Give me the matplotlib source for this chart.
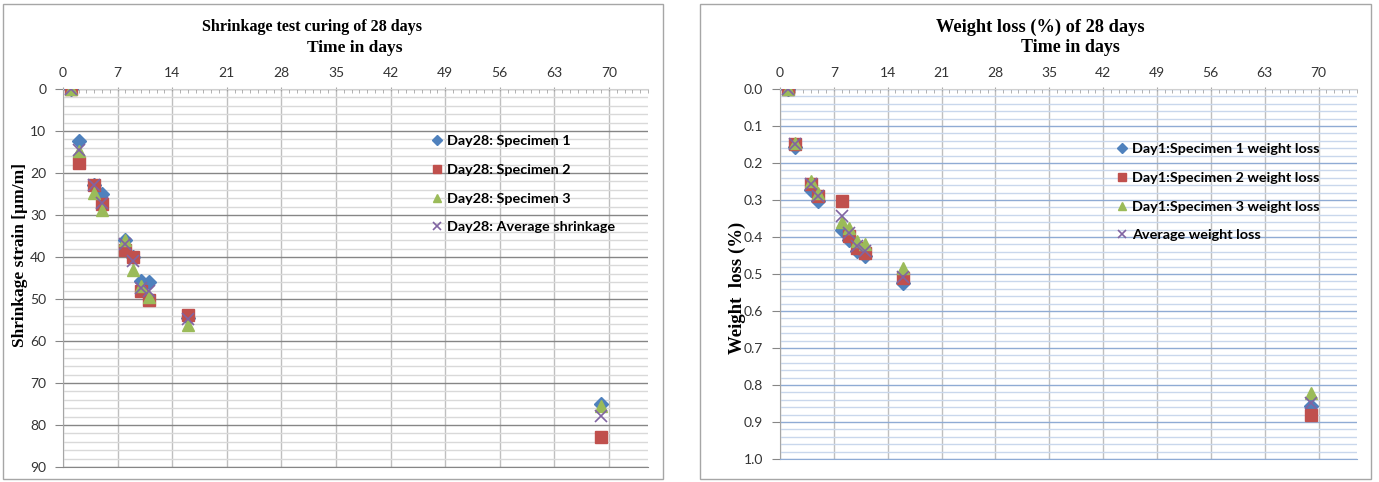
import matplotlib
matplotlib.use("Agg")
import matplotlib.pyplot as plt
from matplotlib.ticker import MultipleLocator, FormatStrFormatter
from matplotlib.patches import Rectangle

# ---------------- data ----------------
days = [1, 2, 4, 5, 8, 9, 10, 11, 16, 69]

shrink_s1 = [0, 12.3, 22.8, 24.9, 36.0, 40.0, 45.8, 46.0, 54.5, 75.0]
shrink_s2 = [0, 17.6, 22.8, 27.3, 38.3, 40.0, 48.2, 50.3, 53.7, 82.9]
shrink_s3 = [0, 14.8, 24.8, 28.9, 36.0, 43.0, 47.0, 49.5, 56.1, 75.4]
shrink_avg = [0, 14.6, 22.9, 27.1, 36.8, 41.0, 47.3, 48.0, 54.8, 77.9]

wl_s1 = [0, 0.157, 0.272, 0.303, 0.380, 0.407, 0.439, 0.452, 0.523, 0.858]
wl_s2 = [0, 0.150, 0.258, 0.290, 0.304, 0.398, 0.430, 0.443, 0.511, 0.881]
wl_s3 = [0, 0.147, 0.250, 0.281, 0.360, 0.376, 0.412, 0.420, 0.484, 0.822]
wl_avg = [0, 0.150, 0.258, 0.290, 0.344, 0.390, 0.424, 0.439, 0.507, 0.848]

left_labels = ["Day28: Specimen 1", "Day28: Specimen 2",
               "Day28: Specimen 3", "Day28: Average shrinkage"]
right_labels = ["Day1:Specimen 1 weight loss", "Day1:Specimen 2 weight loss",
                "Day1:Specimen 3 weight loss", "Average weight loss"]

# ---------------- style ----------------
C_BLUE = "#4F81BD"
C_RED = "#C0504D"
C_GREEN = "#9BBB59"
C_PURPLE = "#8064A2"
SANS = ["Lato", "DejaVu Sans"]
SERIF = ["Liberation Serif", "DejaVu Serif"]

W, H = 1379, 482
fig = plt.figure(figsize=(W / 100, H / 100), dpi=100)


def fx(px):
    return px / W


def fy(py):
    return 1 - py / H


# chart frames
for (x0, y0, x1, y1) in [(3, 4, 663, 479), (700, 4, 1371, 479)]:
    fig.patches.append(Rectangle((fx(x0), fy(y1)), fx(x1 - x0), (y1 - y0) / H,
                                 transform=fig.transFigure, fill=False,
                                 edgecolor="#a6a6a6", lw=1.0))


def draw(ax, series, labels, ylim, ymaj, ymin, fmt, hmaj, hmin):
    markers = [("D", C_BLUE, 7), ("s", C_RED, 9), ("^", C_GREEN, 9), ("x", C_PURPLE, 8)]
    for vals, lab, (m, c, s) in zip(series, labels, markers):
        if m == "x":
            ax.plot(days, vals, linestyle="none", marker=m, ms=s, color=c,
                    mew=1.2, label=lab, zorder=3)
        else:
            ax.plot(days, vals, linestyle="none", marker=m, ms=s, color=c,
                    mec=c, label=lab, zorder=3)
    ax.set_xlim(0, 75)
    ax.set_ylim(ylim, 0)
    ax.xaxis.set_major_locator(MultipleLocator(7))
    ax.xaxis.set_minor_locator(MultipleLocator(1))
    ax.yaxis.set_major_locator(MultipleLocator(ymaj))
    ax.yaxis.set_minor_locator(MultipleLocator(ymin))
    ax.yaxis.set_major_formatter(FormatStrFormatter(fmt))
    ax.xaxis.tick_top()
    ax.set_xticks([t for t in range(0, 71, 7)])
    ax.tick_params(axis="x", which="major", top=True, bottom=False, length=3,
                   direction="inout", color="#a6a6a6", labelsize=10, pad=6,
                   labelcolor="#333333")
    ax.tick_params(axis="x", which="minor", top=True, bottom=False, length=3,
                   direction="in", color="#a6a6a6")
    ax.tick_params(axis="y", which="major", length=6, direction="out",
                   color="#868686", labelsize=10, pad=6, labelcolor="#333333")
    ax.tick_params(axis="y", which="minor", length=0)
    for lab in ax.get_xticklabels() + ax.get_yticklabels():
        lab.set_fontfamily(SANS)
    ax.set_axisbelow(True)
    ax.grid(True, axis="y", which="minor", color=hmin, lw=1.0)
    ax.grid(True, axis="y", which="major", color=hmaj, lw=1.0)
    ax.grid(True, axis="x", which="major", color="#bfbfbf", lw=1.0)
    ax.spines["right"].set_visible(False)
    ax.spines["top"].set_color("#d0d0d0")
    ax.spines["left"].set_color("#a6a6a6")
    ax.spines["bottom"].set_color(hmaj)
    ax.set_facecolor("white")


# ---------------- left chart ----------------
axL = fig.add_axes([fx(63), fy(467), fx(648 - 63), (467 - 89) / H])
draw(axL, [shrink_s1, shrink_s2, shrink_s3, shrink_avg], left_labels,
     90, 10, 2, "%d", "#868686", "#d9d9d9")
fig.text(fx(312), fy(27), "Shrinkage test curing of 28 days", ha="center",
         va="center", fontsize=11.6, fontweight="bold", family=SERIF)
fig.text(fx(355), fy(48), "Time in days", ha="center", va="center",
         fontsize=12.5, fontweight="bold", family=SERIF)
fig.text(fx(20), fy(255), "Shrinkage strain [µm/m]", ha="center", va="center",
         rotation=90, fontsize=12.5, fontweight="bold", family=SERIF)
legL = axL.legend(loc="upper left", bbox_to_anchor=(fx(433), fy(135)),
                  bbox_transform=fig.transFigure, frameon=False, borderpad=0,
                  borderaxespad=0, handlelength=0.6, handletextpad=0.4,
                  labelspacing=1.15, markerscale=0.7,
                  prop={"family": SANS, "weight": "bold", "size": 10.4})

# ---------------- right chart ----------------
axR = fig.add_axes([fx(780), fy(459), fx(1357 - 780), (459 - 89) / H])
draw(axR, [wl_s1, wl_s2, wl_s3, wl_avg], right_labels,
     1.0, 0.1, 0.02, "%.1f", "#8fabd4", "#c9d7ec")
fig.text(fx(1040), fy(27), "Weight loss (%) of 28 days", ha="center",
         va="center", fontsize=13.2, fontweight="bold", family=SERIF)
fig.text(fx(1070), fy(48), "Time in days", ha="center", va="center",
         fontsize=13, fontweight="bold", family=SERIF)
fig.text(fx(737), fy(288), "Weight  loss (%)", ha="center", va="center",
         rotation=90, fontsize=13.5, fontweight="bold", family=SERIF)
legR = axR.legend(loc="upper left", bbox_to_anchor=(fx(1118), fy(143)),
                  bbox_transform=fig.transFigure, frameon=False, borderpad=0,
                  borderaxespad=0, handlelength=0.6, handletextpad=0.4,
                  labelspacing=1.15, markerscale=0.7,
                  prop={"family": SANS, "weight": "bold", "size": 10.4})

fig.savefig("out.png", dpi=100, facecolor="white")
